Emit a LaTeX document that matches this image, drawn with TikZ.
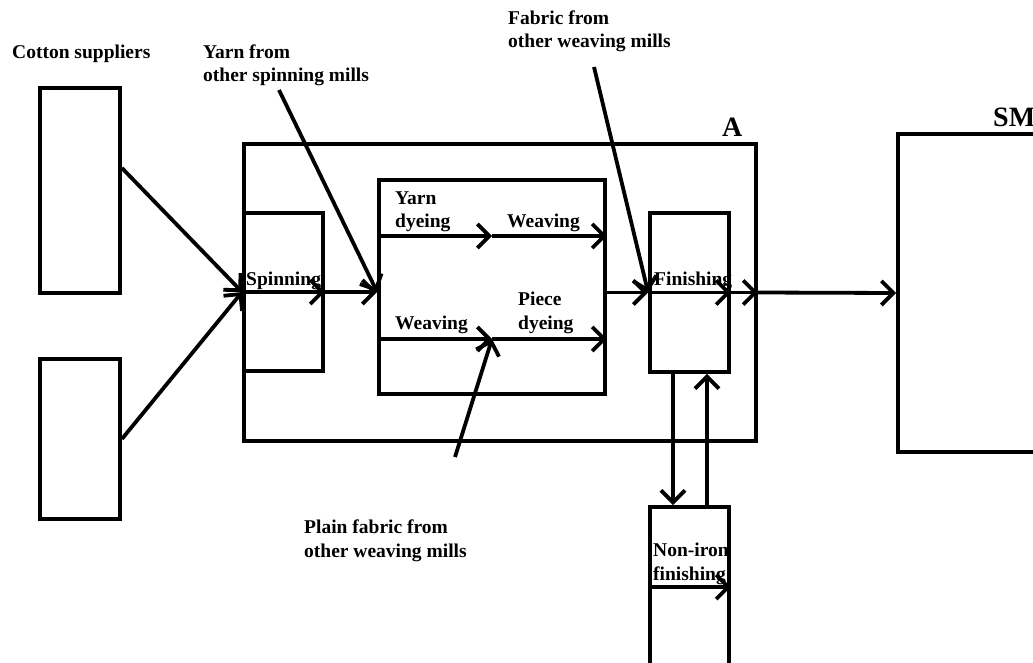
\documentclass[tikz,border=0pt]{standalone}
\usepackage{fontspec}
\setmainfont{Liberation Serif}
\usetikzlibrary{arrows.meta,positioning,calc}

\begin{document}
\begin{tikzpicture}[x=1pt, y=-1pt,
  box/.style={draw, line width=3.8pt, inner sep=0pt},
  arrow/.style={-{Straight Barb[length=12pt,width=24pt]}, line width=3.8pt},
  lbl/.style={font=\bfseries\fontsize{19.5}{23.5}\selectfont, inner sep=0pt, align=left},
  big/.style={font=\bfseries\fontsize{28}{30}\selectfont, inner sep=0pt}
]
\useasboundingbox (0,0) rectangle (1033,663);
\clip (0,0) rectangle (1033,663);

% suppliers
\node[box, minimum width=80pt, minimum height=205pt] (sup1) at (80,190.5) {};
\node[box, minimum width=80pt, minimum height=160pt] (sup2) at (80,439) {};
% mill A and its departments
\node[box, minimum width=512pt, minimum height=297pt] (mill) at (500,292.5) {};
\node[box, minimum width=79pt, minimum height=158pt] (spin) at (283.5,292) {};
\node[box, minimum width=226pt, minimum height=214pt] (weave) at (492,287) {};
\node[box, minimum width=79pt, minimum height=159pt] (fin) at (689.5,292.5) {};
\node[box, minimum width=79pt, minimum height=183pt] (noniron) at (689.5,598.5) {};
% customer SM
\node[box, minimum width=172pt, minimum height=318pt] (sm) at (984,293) {};

% labels (base = last line)
\node[lbl, anchor=base west] (lcotton) at (12,59) {Cotton suppliers};
\node[lbl, anchor=base west] (lyarn) at (203,82) {Yarn from\\other spinning mills};
\node[lbl, anchor=base west] (lfabric) at (508,48) {Fabric from\\other weaving mills};
\node[lbl, anchor=base west] (lplain) at (304,557) {Plain fabric from\\other weaving mills};
\node[lbl, anchor=base west] (lspin) at (246,285) {Spinning};
\node[lbl, anchor=base west] (lyarndye) at (395,228) {Yarn\\dyeing};
\node[lbl, anchor=base west] (ltopweave) at (507,227) {Weaving};
\node[lbl, anchor=base west] (lbotweave) at (395,329) {Weaving};
\node[lbl, anchor=base west] (lpiece) at (518,329) {Piece\\dyeing};
\node[lbl, anchor=base west] (lfin) at (654,285) {Finishing};
\node[lbl, anchor=base west] (lnoniron) at (653,580) {Non-iron\\finishing};
\node[big, anchor=base west] (lmill) at (722,137) {A};
\node[big, anchor=base west] (lsm) at (993,127) {SM};

% free ends and junctions
\coordinate (yarnsrc) at (279,90);
\coordinate (fabsrc) at (594,67);
\coordinate (plainsrc) at (455,457);
\coordinate (ym) at (492,236);
\coordinate (pm) at (492,339);

% flows
\draw[arrow] ([yshift=22.5pt]sup1.east) -- (spin.west);
\draw[arrow] (sup2.east) -- (spin.west);
\draw[arrow] (spin.west) -- (spin.east);
\draw[arrow] (spin.east) -- (spin.east -| weave.west);
\draw[arrow] (yarnsrc) -- (spin.east -| weave.west);
\draw[arrow] (weave.west |- ym) -- (ym);
\draw[arrow] (ym) -- (weave.east |- ym);
\draw[arrow] (weave.west |- pm) -- (pm);
\draw[arrow] (pm) -- (weave.east |- pm);
\draw[arrow] (plainsrc) -- (pm);
\draw[arrow] (weave.east |- fin.west) -- (fin.west);
\draw[arrow] (fabsrc) -- (fin.west);
\draw[arrow] (fin.west) -- (fin.east);
\draw[arrow] (fin.east) -- (fin.east -| mill.east);
\draw[arrow] (fin.east -| mill.east) -- (sm.west);
\draw[arrow] ([xshift=-16.5pt]fin.south) -- ([xshift=-16.5pt]noniron.north);
\draw[arrow] ([xshift=17.5pt]noniron.north) -- ([xshift=17.5pt]fin.south);
\draw[arrow] ([yshift=11.5pt]noniron.west) -- ([yshift=11.5pt]noniron.east);
\end{tikzpicture}
\end{document}
